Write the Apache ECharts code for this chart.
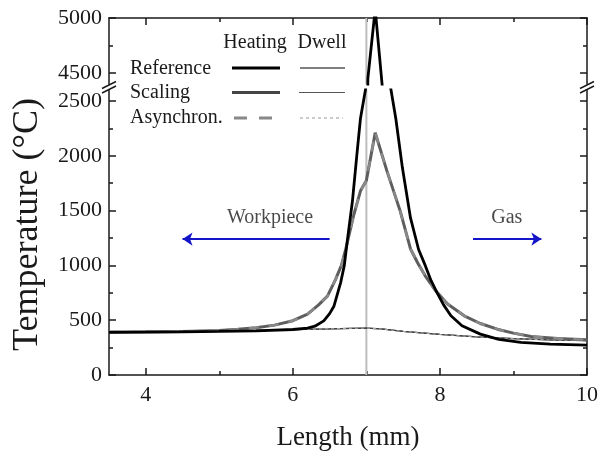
<!DOCTYPE html>
<html><head><meta charset="utf-8">
<script src="https://cdn.jsdelivr.net/npm/echarts@6/dist/echarts.min.js"></script>
<style>html,body{margin:0;padding:0;background:#fff}#c{width:602px;height:456px}</style>
</head><body><div id="c"></div>
<script>
// ---- data ----
const xRange = [3.5, 10];
const xMajorTicks = [4, 6, 8, 10];
const xMinorTicks = [5, 7, 9];
const yLowRange = [0, 2600];
const yLowMajor = [0, 500, 1000, 1500, 2000, 2500];
const yLowMinor = [250, 750, 1250, 1750, 2250];
const yHighRange = [4400, 5000];
const yHighMajor = [4500, 5000];
const yHighMinor = [4750];
const interfaceX = 7;

const referenceHeating = [[3.5,388],[4.0,391],[4.5,394],[5.0,398],[5.5,403],[6.0,415],[6.2,428],[6.3,445],[6.42,494],[6.5,560],[6.56,630],[6.65,843],[6.7,1000],[6.74,1221],[6.81,1585],[6.875,2040],[6.92,2343],[7.0,2650],[7.02,4450],[7.12,5080],[7.22,4350],[7.31,2700],[7.4,2340],[7.49,1890],[7.6,1433],[7.71,1145],[7.8,1000],[7.88,860],[7.96,752],[8.05,640],[8.15,540],[8.3,450],[8.55,373],[8.8,325],[9.1,297],[9.5,282],[10,273]];
const referenceDwell = [[3.5,392],[4,396],[4.5,400],[5,404],[5.5,408],[6,414],[6.5,421],[6.8,426],[7,428],[7.2,420],[7.5,398],[8,370],[8.5,347],[9,331],[9.5,320],[10,313]];
const scalingHeating = [[3.5,392],[4,394],[4.5,397],[5,405],[5.25,418],[5.5,432],[5.75,455],[6,495],[6.2,555],[6.35,640],[6.47,720],[6.58,870],[6.66,1000],[6.72,1150],[6.83,1464],[6.92,1680],[7,1775],[7.12,2210],[7.28,1860],[7.46,1495],[7.6,1150],[7.7,1020],[7.8,905],[7.94,770],[8.1,650],[8.33,540],[8.55,470],[8.78,418],[9,382],[9.24,352],[9.6,333],[10,321]];
const scalingDwell = [[3.5,392],[4,396],[4.5,400],[5,404],[5.5,408],[6,414],[6.5,421],[6.8,426],[7,428],[7.2,420],[7.5,398],[8,370],[8.5,347],[9,331],[9.5,320],[10,313]];
const asyncHeating = [[3.5,392],[4,394],[4.5,397],[5,405],[5.25,418],[5.5,432],[5.75,455],[6,495],[6.2,555],[6.35,640],[6.47,720],[6.58,870],[6.66,1000],[6.72,1150],[6.83,1464],[6.92,1680],[7,1775],[7.12,2210],[7.28,1860],[7.46,1495],[7.6,1150],[7.7,1020],[7.8,905],[7.94,770],[8.1,650],[8.33,540],[8.55,470],[8.78,418],[9,382],[9.24,352],[9.6,333],[10,321]];
const asyncDwell = [[3.5,392],[4,396],[4.5,400],[5,404],[5.5,408],[6,414],[6.5,421],[6.8,426],[7,428],[7.2,420],[7.5,398],[8,370],[8.5,347],[9,331],[9.5,320],[10,313]];

const arrowY = 1240;
const workpieceArrow = [[6.5, arrowY], [4.5, arrowY]];
const gasArrow = [[8.45, arrowY], [9.38, arrowY]];
const annotations = [{name: 'Workpiece', value: [5.69, 1436]}, {name: 'Gas', value: [8.91, 1436]}];

// ---- styling ----
const FONT = '"Liberation Serif", "Times New Roman", serif';
const AX = '#1a1a1a';
const chart = echarts.init(document.getElementById('c'), null, {renderer: 'canvas'});
const plain = function (v) { return String(v); };

function axisBase(extra) {
  return Object.assign({
    type: 'value', splitLine: {show: false},
    axisLine: {show: false, onZero: false, lineStyle: {color: AX, width: 1.5}},
    axisTick: {show: true, inside: true, length: 7, lineStyle: {color: AX, width: 1.5}},
    axisLabel: {show: false}
  }, extra);
}
function xAxisDef(grid, pos, ticks, len, line, labels) {
  const a = axisBase({gridIndex: grid, position: pos, min: xRange[0], max: xRange[1]});
  a.axisLine = Object.assign({}, a.axisLine, {show: line});
  a.axisTick = Object.assign({}, a.axisTick, {length: len, customValues: ticks});
  if (labels) a.axisLabel = {show: true, customValues: labels, formatter: plain, fontFamily: FONT, fontSize: 22, color: AX, margin: 9};
  return a;
}
function yAxisDef(grid, pos, range, ticks, len, line, labels) {
  const a = axisBase({gridIndex: grid, position: pos, min: range[0], max: range[1]});
  a.axisLine = Object.assign({}, a.axisLine, {show: line});
  a.axisTick = Object.assign({}, a.axisTick, {length: len, customValues: ticks});
  if (labels) a.axisLabel = {show: true, customValues: labels, formatter: plain, fontFamily: FONT, fontSize: 22, color: AX, margin: 7};
  return a;
}

const xAxes = [
  xAxisDef(0, 'bottom', xMajorTicks, 7, true, xMajorTicks),
  xAxisDef(0, 'bottom', xMinorTicks, 4, false, null),
  xAxisDef(1, 'top', xMajorTicks, 7, true, null),
  xAxisDef(1, 'top', xMinorTicks, 4, false, null)
];
xAxes[0].name = 'Length (mm)';
xAxes[0].nameLocation = 'middle';
xAxes[0].nameGap = 49;
xAxes[0].nameTextStyle = {fontFamily: FONT, fontSize: 27, color: AX};

const yAxes = [
  yAxisDef(0, 'left', yLowRange, yLowMajor, 7, true, yLowMajor),
  yAxisDef(0, 'left', yLowRange, yLowMinor, 4, false, null),
  yAxisDef(0, 'right', yLowRange, yLowMajor, 7, true, null),
  yAxisDef(0, 'right', yLowRange, yLowMinor, 4, false, null),
  yAxisDef(1, 'left', yHighRange, yHighMajor, 7, true, yHighMajor),
  yAxisDef(1, 'left', yHighRange, yHighMinor, 4, false, null),
  yAxisDef(1, 'right', yHighRange, yHighMajor, 7, true, null),
  yAxisDef(1, 'right', yHighRange, yHighMinor, 4, false, null)
];
yAxes[0].name = 'Temperature (°C)';
yAxes[0].nameLocation = 'middle';
yAxes[0].nameGap = 63;
yAxes[0].nameTextStyle = {fontFamily: FONT, fontSize: 36, color: AX, padding: [0, 0, 0, 16]};

function lineSeries(name, data, color, width, dash, z, upper) {
  return {
    name: name, type: 'line', data: data, showSymbol: false, symbol: 'none',
    xAxisIndex: upper ? 2 : 0, yAxisIndex: upper ? 4 : 0, clip: true, z: z,
    lineStyle: {color: color, width: width, type: dash || 'solid'},
    animation: false, silent: true
  };
}

const series = [
  lineSeries('interface', [[interfaceX, yLowRange[0]], [interfaceX, yLowRange[1]]], '#bdbdbd', 2, null, 1, false),
  lineSeries('interface', [[interfaceX, yHighRange[0]], [interfaceX, yHighRange[1]]], '#bdbdbd', 2, null, 1, true),
  lineSeries('Reference dwell', referenceDwell, '#3a3a3a', 1.3, null, 3, false),
  lineSeries('Scaling dwell', scalingDwell, '#444', 1.2, null, 3, false),
  lineSeries('Asynchron. dwell', asyncDwell, '#b0b0b0', 1, [3, 3], 4, false),
  lineSeries('Scaling heating', scalingHeating, '#5e5e5e', 3, null, 5, false),
  lineSeries('Asynchron. heating', asyncHeating, '#8a8a8a', 2.4, [10, 10], 6, false),
  lineSeries('Reference heating', referenceHeating, '#000', 2.8, null, 7, false),
  lineSeries('Reference heating', referenceHeating, '#000', 2.8, null, 7, true),
  {
    type: 'lines', coordinateSystem: 'cartesian2d', xAxisIndex: 0, yAxisIndex: 0,
    symbol: ['none', 'arrow'], symbolSize: [8, 10], silent: true, animation: false, z: 8,
    lineStyle: {color: '#1414c8', width: 2, opacity: 1, curveness: 0},
    data: [{coords: workpieceArrow}, {coords: gasArrow}]
  },
  {
    type: 'scatter', xAxisIndex: 0, yAxisIndex: 0, data: annotations, symbolSize: 1,
    itemStyle: {color: 'rgba(0,0,0,0)'}, silent: true, animation: false, z: 8,
    label: {show: true, position: 'inside', formatter: '{b}', fontFamily: FONT, fontSize: 20, color: AX}
  }
];

// legend table + axis break marks (decoration)
const G = [];
function txt(t, x, y, align) {
  G.push({type: 'text', silent: true, z: 20, style: {text: t, x: x, y: y, fill: AX, font: '20px ' + FONT, align: align, verticalAlign: 'middle'}});
}
function seg(x1, y1, x2, y2, color, w, dash) {
  G.push({type: 'line', silent: true, z: 20, shape: {x1: x1, y1: y1, x2: x2, y2: y2}, style: {stroke: color, lineWidth: w, lineDash: dash || null}});
}
txt('Heating', 255, 43, 'center');
txt('Dwell', 322, 43, 'center');
txt('Reference', 130, 69, 'left');
txt('Scaling', 130, 93, 'left');
txt('Asynchron.', 130, 118, 'left');
seg(232, 68, 280, 68, '#000', 3);
seg(300, 68, 345, 68, '#555', 1.3);
seg(232, 92.5, 280, 92.5, '#444', 3);
seg(299, 92.5, 345, 92.5, '#555', 1.2);
seg(234, 118, 273, 118, '#888', 3, [13, 12]);
seg(300, 118, 343, 118, '#aaa', 1.2, [3, 3]);
[109, 587].forEach(function (x) {
  seg(x - 7, 88.5, x + 7, 81.5, AX, 1.4);
  seg(x - 7, 93, x + 7, 86, AX, 1.4);
});

chart.setOption({
  animation: false,
  backgroundColor: '#fff',
  grid: [
    {left: 109, right: 15, top: 90, height: 286},
    {left: 109, right: 15, top: 18, height: 66}
  ],
  xAxis: xAxes,
  yAxis: yAxes,
  series: series,
  graphic: G
});
</script>
</body></html>
